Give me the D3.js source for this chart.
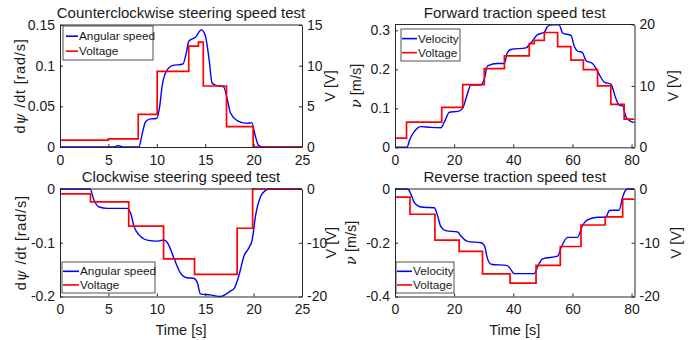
<!DOCTYPE html>
<html>
<head>
<meta charset="utf-8">
<script src="https://cdn.jsdelivr.net/npm/d3@7"></script>
<style>
  body { margin: 0; background: #fff; }
  text { font-family: "Liberation Sans", Arial, sans-serif; fill: #1a1a1a; }
</style>
</head>
<body>
<div class="canvas"></div>
<script>
// ---- data ----
// counterclockwise steering
const ccwTime = [0, 5.5, 6.0, 6.6, 8.15, 8.5, 8.84, 9.35, 9.97, 10.3, 10.55, 10.9, 11.6, 12.7, 13.07, 13.3, 14.0, 14.6, 15.0, 15.4, 15.7, 16.05, 16.9, 17.3, 17.6, 18.3, 19.3, 19.8, 20.2, 20.5, 20.9, 25];
const ccwSpeed = [0, 0, 0.0015, 0, 0, 0.0167, 0.031, 0.0346, 0.035, 0.05, 0.075, 0.091, 0.1, 0.102, 0.117, 0.13, 0.135, 0.144, 0.1375, 0.108, 0.079, 0.076, 0.074, 0.058, 0.042, 0.0325, 0.029, 0.03, 0.0125, 0.002, 0, 0];
const ccwVoltTime = [0, 5.0, 8.08, 10.04, 13.3, 14.3, 14.8, 17.2, 19.95, 25];
const ccwVolt = [0.85, 1.0, 4.0, 9.3, 12.4, 12.9, 7.5, 2.5, 0, 0];

// forward traction
const fwdTime = [0, 4.05, 5.0, 6.5, 8.8, 12, 15.5, 16.7, 18.4, 21.2, 22.9, 24.0, 25.7, 29.1, 30.2, 31.3, 34.7, 37.0, 38.0, 39.2, 44.3, 46.0, 48.2, 50.5, 51.6, 53.0, 55.5, 56.7, 59.5, 60.6, 61.7, 63.4, 64.6, 66.8, 69.0, 70.8, 73.0, 74.7, 75.8, 77.0, 78.1, 79.8, 81];
const fwdSpeed = [0, 0, 0.02, 0.04, 0.053, 0.051, 0.05, 0.065, 0.09, 0.092, 0.1, 0.125, 0.16, 0.16, 0.175, 0.209, 0.215, 0.215, 0.243, 0.251, 0.255, 0.268, 0.289, 0.295, 0.31, 0.314, 0.314, 0.293, 0.287, 0.26, 0.247, 0.243, 0.222, 0.215, 0.188, 0.167, 0.162, 0.125, 0.108, 0.106, 0.078, 0.066, 0.064];
const fwdVoltTime = [0, 3.9, 15.8, 22.9, 30.2, 37.0, 45.4, 47.1, 50.5, 55.0, 59.5, 63.7, 68.5, 73.0, 77.5, 81];
const fwdVolt = [1.5, 4.1, 6.5, 10.2, 12.8, 14.9, 16.9, 17.4, 18.7, 16.4, 14.2, 12.65, 10.0, 7.0, 4.6, 4.6];

// clockwise steering
const cwTime = [0, 3.1, 3.5, 4.0, 4.9, 6.9, 7.3, 7.65, 8.15, 9.0, 10.0, 10.7, 11.1, 11.8, 12.4, 13.1, 13.8, 14.2, 14.5, 15.5, 16.6, 17.6, 18.0, 18.5, 19.0, 19.5, 19.85, 20.2, 20.7, 21.2, 21.7, 25];
const cwSpeed = [0, 0, -0.02, -0.033, -0.036, -0.036, -0.045, -0.07, -0.085, -0.095, -0.097, -0.095, -0.1, -0.13, -0.155, -0.165, -0.166, -0.175, -0.195, -0.197, -0.2, -0.19, -0.185, -0.16, -0.125, -0.11, -0.095, -0.05, -0.015, -0.003, 0, 0];
const cwVoltTime = [0, 3.15, 7.1, 10.7, 13.9, 18.3, 19.9, 25];
const cwVolt = [-0.9, -2.4, -6.9, -13.0, -15.9, -7.3, 0, 0];

// reverse traction
const revTime = [0, 4.3, 5.4, 6.5, 8.2, 9.9, 13.3, 14.4, 15.5, 17.2, 21.2, 22.3, 24.6, 29.1, 30.2, 31.3, 32.5, 38.0, 39.2, 40.3, 47.1, 48.2, 49.9, 55.0, 56.1, 58.4, 61.7, 63.4, 65.1, 68.5, 71.3, 72.5, 75.8, 77.0, 78.1, 78.6, 81];
const revSpeed = [0, 0, -0.02, -0.05, -0.065, -0.068, -0.07, -0.1, -0.14, -0.155, -0.16, -0.175, -0.195, -0.2, -0.21, -0.26, -0.28, -0.285, -0.3, -0.315, -0.315, -0.29, -0.26, -0.25, -0.22, -0.18, -0.18, -0.135, -0.115, -0.105, -0.105, -0.08, -0.078, -0.03, -0.003, 0, 0];
const revVoltTime = [0, 5.07, 13.5, 21.7, 29.6, 38.9, 47.7, 55.9, 62.9, 71.1, 77.0, 81];
const revVolt = [-1.5, -4.7, -9.5, -11.6, -15.8, -17.5, -14.2, -10.7, -6.7, -5.2, -1.9, -1.9];

// tick values
const steerTimeTicks = [0, 5, 10, 15, 20, 25];
const tracTimeTicks = [0, 20, 40, 60, 80];
const ccwSpeedTicks = [0, 0.05, 0.1, 0.15];
const ccwVoltTicks = [0, 5, 10, 15];
const fwdSpeedTicks = [0, 0.1, 0.2, 0.3];
const fwdVoltTicks = [0, 10, 20];
const cwSpeedTicks = [0, -0.1, -0.2];
const revSpeedTicks = [0, -0.2, -0.4];
const negVoltTicks = [0, -10, -20];

const blue = "#0000ff";
const red = "#ff0000";
const axisColor = "#262626";

const svg = d3
  .select(".canvas")
  .append("svg")
  .attr("width", 689)
  .attr("height", 340);

const fmt = (d) => String(Math.round(d * 1000) / 1000);

const panels = [
  {
    title: "Counterclockwise steering speed test",
    box: { x0: 60, x1: 302, y0: 25, y1: 147 },
    xDomain: [0, 25], xTicks: steerTimeTicks,
    yDomain: [0, 0.15], yTicks: ccwSpeedTicks,
    vDomain: [0, 15], vTicks: ccwVoltTicks,
    t: ccwTime, s: ccwSpeed, vt: ccwVoltTime, v: ccwVolt,
    yLabel: "psi", yLabelX: 20, vLabelX: 330, xLabel: false,
    legend: { x: 63, y: 26, w: 90, h: 34, l0: 66, l1: 78, names: ["Angular speed", "Voltage"] },
  },
  {
    title: "Forward traction speed test",
    box: { x0: 395, x1: 634.5, y0: 24.5, y1: 147.3 },
    xDomain: [0, 81], xTicks: tracTimeTicks,
    yDomain: [0, 0.315], yTicks: fwdSpeedTicks,
    vDomain: [0, 20], vTicks: fwdVoltTicks,
    t: fwdTime, s: fwdSpeed, vt: fwdVoltTime, v: fwdVolt,
    yLabel: "nu", yLabelX: 356, vLabelX: 673, xLabel: false,
    legend: { x: 401, y: 29, w: 59, h: 32, l0: 402, l1: 417, names: ["Velocity", "Voltage"] },
  },
  {
    title: "Clockwise steering speed test",
    box: { x0: 60, x1: 302, y0: 189, y1: 296.5 },
    xDomain: [0, 25], xTicks: steerTimeTicks,
    yDomain: [-0.2, 0], yTicks: cwSpeedTicks,
    vDomain: [-20, 0], vTicks: negVoltTicks,
    t: cwTime, s: cwSpeed, vt: cwVoltTime, v: cwVolt,
    yLabel: "psi", yLabelX: 21, vLabelX: 331, xLabel: true,
    legend: { x: 62, y: 262, w: 93, h: 31, l0: 63, l1: 79, names: ["Angular speed", "Voltage"] },
  },
  {
    title: "Reverse traction speed test",
    box: { x0: 395, x1: 634.5, y0: 189, y1: 296.5 },
    xDomain: [0, 81], xTicks: tracTimeTicks,
    yDomain: [-0.4, 0], yTicks: revSpeedTicks,
    vDomain: [-20, 0], vTicks: negVoltTicks,
    t: revTime, s: revSpeed, vt: revVoltTime, v: revVolt,
    yLabel: "nu", yLabelX: 351, vLabelX: 676, xLabel: true,
    legend: { x: 396, y: 262, w: 58, h: 31, l0: 397, l1: 412, names: ["Velocity", "Voltage"] },
  },
];

const drawPanel = (p) => {
  const b = p.box;
  const x = d3.scaleLinear().domain(p.xDomain).range([b.x0, b.x1]);
  const y = d3.scaleLinear().domain(p.yDomain).range([b.y1, b.y0]);
  const yv = d3.scaleLinear().domain(p.vDomain).range([b.y1, b.y0]);

  const g = svg.append("g");

  // clip for the lines
  const clipId = "clip" + Math.round(b.x0) + Math.round(b.y0);
  g.append("clipPath").attr("id", clipId)
    .append("rect")
    .attr("x", b.x0).attr("y", b.y0 - 1)
    .attr("width", b.x1 - b.x0).attr("height", b.y1 - b.y0 + 2);

  const speedLine = d3.line()
    .x((d) => x(d[0]))
    .y((d) => y(d[1]))
    .curve(d3.curveMonotoneX);

  const voltLine = d3.line()
    .x((d) => x(d[0]))
    .y((d) => yv(d[1]))
    .curve(d3.curveStepAfter);

  const lines = g.append("g").attr("clip-path", `url(#${clipId})`);
  lines.append("path")
    .datum(p.t.map((t, i) => [t, p.s[i]]))
    .attr("d", speedLine)
    .attr("fill", "none")
    .attr("stroke", blue)
    .attr("stroke-width", 1.4);
  lines.append("path")
    .datum(p.vt.map((t, i) => [t, p.v[i]]))
    .attr("d", voltLine)
    .attr("fill", "none")
    .attr("stroke", red)
    .attr("stroke-width", 1.7);

  // axes (ticks pointing inward like matlab)
  const xAxis = d3.axisBottom(x).tickValues(p.xTicks).tickFormat(fmt)
    .tickSizeInner(-3).tickSizeOuter(0).tickPadding(8);
  const yAxis = d3.axisLeft(y).tickValues(p.yTicks).tickFormat(fmt)
    .tickSizeInner(-3).tickSizeOuter(0).tickPadding(5);
  const vAxis = d3.axisRight(yv).tickValues(p.vTicks).tickFormat(fmt)
    .tickSizeInner(-3).tickSizeOuter(0).tickPadding(5);

  const styleAxis = (sel) => {
    sel.selectAll("path, line").attr("stroke", axisColor);
    sel.selectAll("text")
      .style("font-family", '"Liberation Sans", Arial, sans-serif')
      .style("font-size", "14px")
      .attr("fill", "#1a1a1a");
  };

  g.append("g").attr("transform", `translate(0,${b.y1})`).call(xAxis).call(styleAxis);
  g.append("g").attr("transform", `translate(${b.x0},0)`).call(yAxis).call(styleAxis);
  g.append("g").attr("transform", `translate(${b.x1},0)`).call(vAxis).call(styleAxis);

  // top edge of the box
  g.append("line")
    .attr("x1", b.x0).attr("x2", b.x1)
    .attr("y1", b.y0).attr("y2", b.y0)
    .attr("stroke", axisColor);

  // title
  g.append("text")
    .attr("x", (b.x0 + b.x1) / 2)
    .attr("y", b.y0 - 7)
    .attr("text-anchor", "middle")
    .style("font-size", "15px")
    .text(p.title);

  // left label
  const cy = (b.y0 + b.y1) / 2;
  const yl = g.append("text")
    .attr("transform", `translate(${p.yLabelX},${cy}) rotate(-90)`)
    .attr("text-anchor", "middle")
    .attr("dy", "0.35em")
    .style("font-size", "14.5px");
  if (p.yLabel === "psi") {
    yl.style("letter-spacing", "0.8px");
    yl.append("tspan").text("d");
    yl.append("tspan").style("font-family", "'DejaVu Serif', serif").style("font-style", "italic").text("\u03c8");
    yl.append("tspan").text(" /dt [rad/s]");
  } else {
    yl.append("tspan").style("font-family", "'DejaVu Serif', serif").style("font-style", "italic").text("\u03bd");
    yl.append("tspan").text(" [m/s]");
  }

  // right label
  g.append("text")
    .attr("transform", `translate(${p.vLabelX},${cy}) rotate(-90)`)
    .attr("text-anchor", "middle")
    .attr("dy", "0.35em")
    .style("font-size", "14.5px")
    .text("V [V]");

  if (p.xLabel) {
    g.append("text")
      .attr("x", (b.x0 + b.x1) / 2)
      .attr("y", b.y1 + 38)
      .attr("text-anchor", "middle")
      .style("font-size", "14.5px")
      .text("Time [s]");
  }

  // legend
  const L = p.legend;
  const leg = g.append("g");
  leg.append("rect")
    .attr("x", L.x).attr("y", L.y)
    .attr("width", L.w).attr("height", L.h)
    .attr("fill", "#fff")
    .attr("stroke", axisColor)
    .attr("stroke-width", 0.8);
  [blue, red].forEach((c, i) => {
    const ly = L.y + L.h * (i === 0 ? 0.3 : 0.74);
    leg.append("line")
      .attr("x1", L.l0).attr("x2", L.l1)
      .attr("y1", ly).attr("y2", ly)
      .attr("stroke", c)
      .attr("stroke-width", 1.6);
    leg.append("text")
      .attr("x", L.l1 + 1)
      .attr("y", ly)
      .attr("dy", "0.35em")
      .style("font-size", "11.8px")
      .text(L.names[i]);
  });
};

panels.forEach(drawPanel);
</script>
</body>
</html>
